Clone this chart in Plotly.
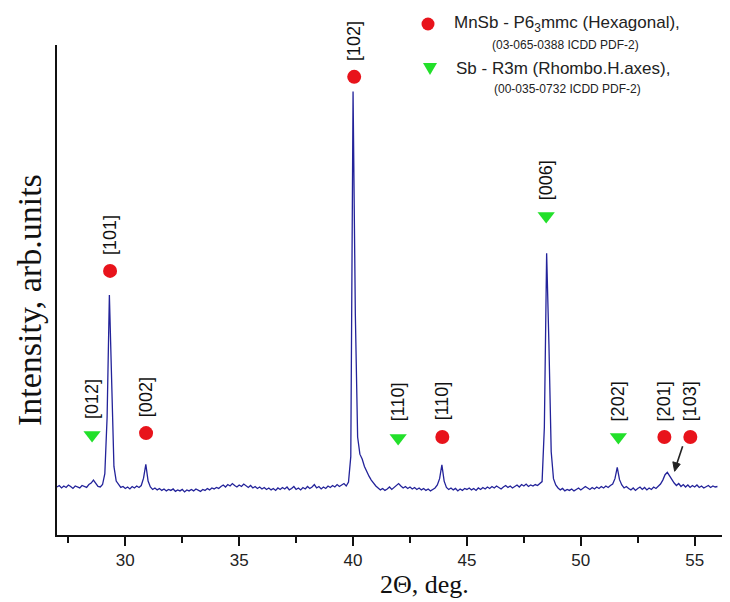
import numpy as np
import plotly.graph_objects as go

# ---- XRD pattern (2theta grid 27.0 .. 56.0, step 0.1) ----
two_theta = np.round(np.arange(27.0, 56.0001, 0.1), 1)
intensity = [
    9.8, 10.1, 9.6, 10.0, 9.7, 10.2, 9.9, 9.5, 10.0, 9.8,      # 27
    9.6, 10.1, 9.9, 9.7, 10.3, 10.6, 11.2, 10.4, 9.9, 9.8,     # 28
    10.3, 12.5, 24.0, 49.0, 30.0, 14.0, 11.0, 10.2, 9.7, 9.9,  # 29
    9.5, 9.8, 9.4, 9.9, 9.6, 10.0, 9.7, 10.1, 11.6, 14.4,      # 30
    11.0, 9.8, 9.3, 9.6, 9.2, 9.5, 9.1, 9.4, 9.0, 9.3,         # 31
    9.1, 9.4, 8.9, 9.2, 9.0, 9.3, 8.8, 9.2, 9.0, 9.3,          # 32
    9.0, 9.4, 9.1, 8.9, 9.3, 9.1, 9.5, 9.2, 9.6, 9.4,          # 33
    9.7, 9.5, 9.9, 10.2, 9.8, 10.3, 10.0, 10.5, 10.1, 9.8,     # 34
    10.2, 9.9, 10.4, 10.0, 9.7, 10.1, 9.6, 9.9, 9.5, 9.8,      # 35
    9.4, 9.7, 9.3, 9.6, 9.2, 9.5, 9.1, 9.6, 9.3, 9.7,          # 36
    9.4, 9.8, 9.2, 9.5, 9.9, 9.3, 9.6, 9.2, 9.7, 9.4,          # 37
    9.9, 9.5, 9.8, 10.3, 9.6, 9.9, 9.4, 9.8, 9.5, 10.0,        # 38
    9.7, 10.1, 9.8, 10.3, 9.9, 10.2, 10.5, 10.0, 10.8, 16.0,   # 39
    90.5, 45.0, 20.0, 16.5, 15.5, 14.0, 12.8, 12.0, 11.2, 10.5,  # 40
    10.0, 9.6, 9.2, 9.5, 9.1, 9.4, 9.8, 9.3, 9.7, 10.1,        # 41
    10.5, 10.0, 9.6, 9.9, 9.5, 9.8, 9.4, 9.7, 9.3, 9.6,        # 42
    9.2, 9.5, 9.1, 9.4, 9.0, 9.3, 9.6, 10.2, 11.5, 14.3,       # 43
    11.0, 9.7, 9.3, 9.6, 9.2, 9.5, 9.0, 9.4, 9.1, 9.5,         # 44
    9.3, 9.6, 9.2, 9.5, 9.1, 9.6, 9.3, 9.7, 9.4, 9.8,          # 45
    9.5, 9.9, 9.6, 10.0, 9.7, 9.4, 9.8, 10.1, 9.7, 10.0,       # 46
    9.6, 9.9, 10.2, 9.8, 10.3, 10.0, 10.4, 9.9, 10.2, 10.0,    # 47
    10.3, 10.1, 10.5, 10.9, 22.0, 57.5, 39.0, 17.0, 11.5, 10.2,  # 48
    9.6, 9.2, 9.5, 9.0, 9.3, 9.1, 9.4, 9.0, 9.3, 9.6,          # 49
    9.2, 9.5, 9.9, 9.6, 9.3, 9.7, 9.4, 9.8, 9.5, 9.9,          # 50
    9.6, 10.0, 9.7, 10.1, 10.4, 11.5, 13.8, 11.3, 10.2, 9.6,   # 51
    9.9, 9.5, 9.2, 9.6, 9.1, 9.5, 9.8, 9.3, 9.7, 9.2,          # 52
    9.6, 9.3, 9.8, 9.5, 10.0, 10.4, 11.2, 12.3, 12.8, 12.0,    # 53
    11.2, 10.6, 10.1, 10.5, 9.9, 10.3, 9.8, 10.2, 9.7, 10.1,   # 54
    9.8, 10.2, 9.7, 10.0, 9.6, 9.9, 10.1, 9.7, 10.0, 9.8,      # 55
    9.9,                                                       # 56
]

# ---- phase markers ----
mnsb_pos = [29.33, 30.91, 40.05, 43.92, 53.67, 54.81]
mnsb_level = [53.9, 20.8, 93.5, 20.0, 20.0, 20.0]
mnsb_hkl = ["[101]", "[002]", "[102]", "[110]", "[201]", "[103]"]

sb_pos = [28.54, 41.98, 48.48, 51.65]
sb_level = [20.4, 19.8, 65.1, 20.0]
sb_hkl = ["[012]", "[110]", "[006]", "[202]"]

legend_mnsb = "MnSb - P6<sub>3</sub>mmc (Hexagonal),"
legend_mnsb_ref = "(03-065-0388 ICDD PDF-2)"
legend_sb = "Sb - R3m (Rhombo.H.axes),"
legend_sb_ref = "(00-035-0732 ICDD PDF-2)"

x_ticks = [30, 35, 40, 45, 50, 55]

RED = "#e8131b"
GREEN = "#22e02a"
LINE = "#23239a"

W, H = 730, 602
L, R, T, B = 57, 722, 45, 535   # plot-area pixel box


def paper(xp, yp):
    """figure pixel -> paper (plot-area) fraction"""
    return (xp - L) / (R - L), (B - yp) / (B - T)


fig = go.Figure()
fig.add_trace(go.Scatter(x=two_theta, y=intensity, mode="lines",
                         line=dict(color=LINE, width=1.3), showlegend=False,
                         hoverinfo="skip"))
fig.add_trace(go.Scatter(x=mnsb_pos, y=mnsb_level, mode="markers",
                         marker=dict(symbol="circle", size=14, color=RED),
                         showlegend=False))
fig.add_trace(go.Scatter(x=sb_pos, y=sb_level, mode="markers",
                         marker=dict(symbol="triangle-down", size=15, color=GREEN),
                         showlegend=False))

annotations = []
for xp, yl, t in zip(mnsb_pos + sb_pos, mnsb_level + sb_level, mnsb_hkl + sb_hkl):
    annotations.append(dict(x=xp, y=yl, xref="x", yref="y", text=t, showarrow=False,
                            textangle=-90, xanchor="center", yanchor="middle",
                            yshift=36, font=dict(family="Liberation Sans", size=18, color="#111")))

# legend (manual)
for txt, (xp, yp), size in [(legend_mnsb, (452, 24), 17),
                            (legend_mnsb_ref, (490, 45), 12),
                            (legend_sb, (454, 68), 17),
                            (legend_sb_ref, (492, 89), 12)]:
    xx, yy = paper(xp, yp)
    annotations.append(dict(x=xx, y=yy, xref="paper", yref="paper", text=txt,
                            showarrow=False, xanchor="left", yanchor="middle",
                            font=dict(family="Liberation Sans", size=size, color="#222")))

# axis titles
xx, yy = paper(424, 601)
annotations.append(dict(x=xx, y=yy, xref="paper", yref="paper", text="2Θ, deg.",
                        showarrow=False, xanchor="center", yanchor="bottom",
                        font=dict(family="Liberation Serif", size=26, color="#111")))
xx, yy = paper(29, 300)
annotations.append(dict(x=xx, y=yy, xref="paper", yref="paper", text="Intensity, arb.units",
                        showarrow=False, xanchor="center", yanchor="middle", textangle=-90,
                        font=dict(family="Liberation Serif", size=34, color="#111")))

# legend symbols and the [103] pointer arrow as shapes
cx, cy = paper(428, 24)
tx, ty = paper(430, 68)
shapes = [
    dict(type="circle", xref="paper", yref="paper", xsizemode="pixel", ysizemode="pixel",
         xanchor=cx, yanchor=cy, x0=-6.5, x1=6.5, y0=-6.5, y1=6.5,
         fillcolor=RED, line=dict(width=0)),
    dict(type="path", xref="paper", yref="paper", xsizemode="pixel", ysizemode="pixel",
         xanchor=tx, yanchor=ty, path="M -7,5 L 7,5 L 0,-7 Z",
         fillcolor=GREEN, line=dict(width=0)),
    # arrow shaft + head (pixel offsets relative to the tip at 2θ=54.12, I=13)
    dict(type="path", xref="x", yref="y", xsizemode="pixel", ysizemode="pixel",
         xanchor=54.12, yanchor=13.0, path="M 8,25 L 2,7",
         line=dict(color="#222", width=1.6)),
    dict(type="path", xref="x", yref="y", xsizemode="pixel", ysizemode="pixel",
         xanchor=54.12, yanchor=13.0, path="M 0,0 L -1.8,9.5 L 5.6,7.1 Z",
         fillcolor="#222", line=dict(color="#222", width=1)),
]

fig.update_layout(
    width=W, height=H,
    margin=dict(l=L, r=W - R, t=T, b=H - B),
    paper_bgcolor="white", plot_bgcolor="white",
    annotations=annotations, shapes=shapes,
    xaxis=dict(range=[27.0, 56.2], tickvals=x_ticks, ticks="outside", ticklen=9, tickwidth=2,
               tickcolor="#111", showline=True, linecolor="#111", linewidth=2,
               showgrid=False, zeroline=False,
               tickfont=dict(family="Liberation Sans", size=17, color="#222"),
               minor=dict(tickvals=[27.5, 32.5, 37.5, 42.5, 47.5, 52.5], ticks="outside",
                          ticklen=6, tickwidth=2, tickcolor="#111")),
    yaxis=dict(range=[0, 100], showline=True, linecolor="#111", linewidth=2,
               showticklabels=False, ticks="", showgrid=False, zeroline=False),
)

fig.write_html("out.html")
